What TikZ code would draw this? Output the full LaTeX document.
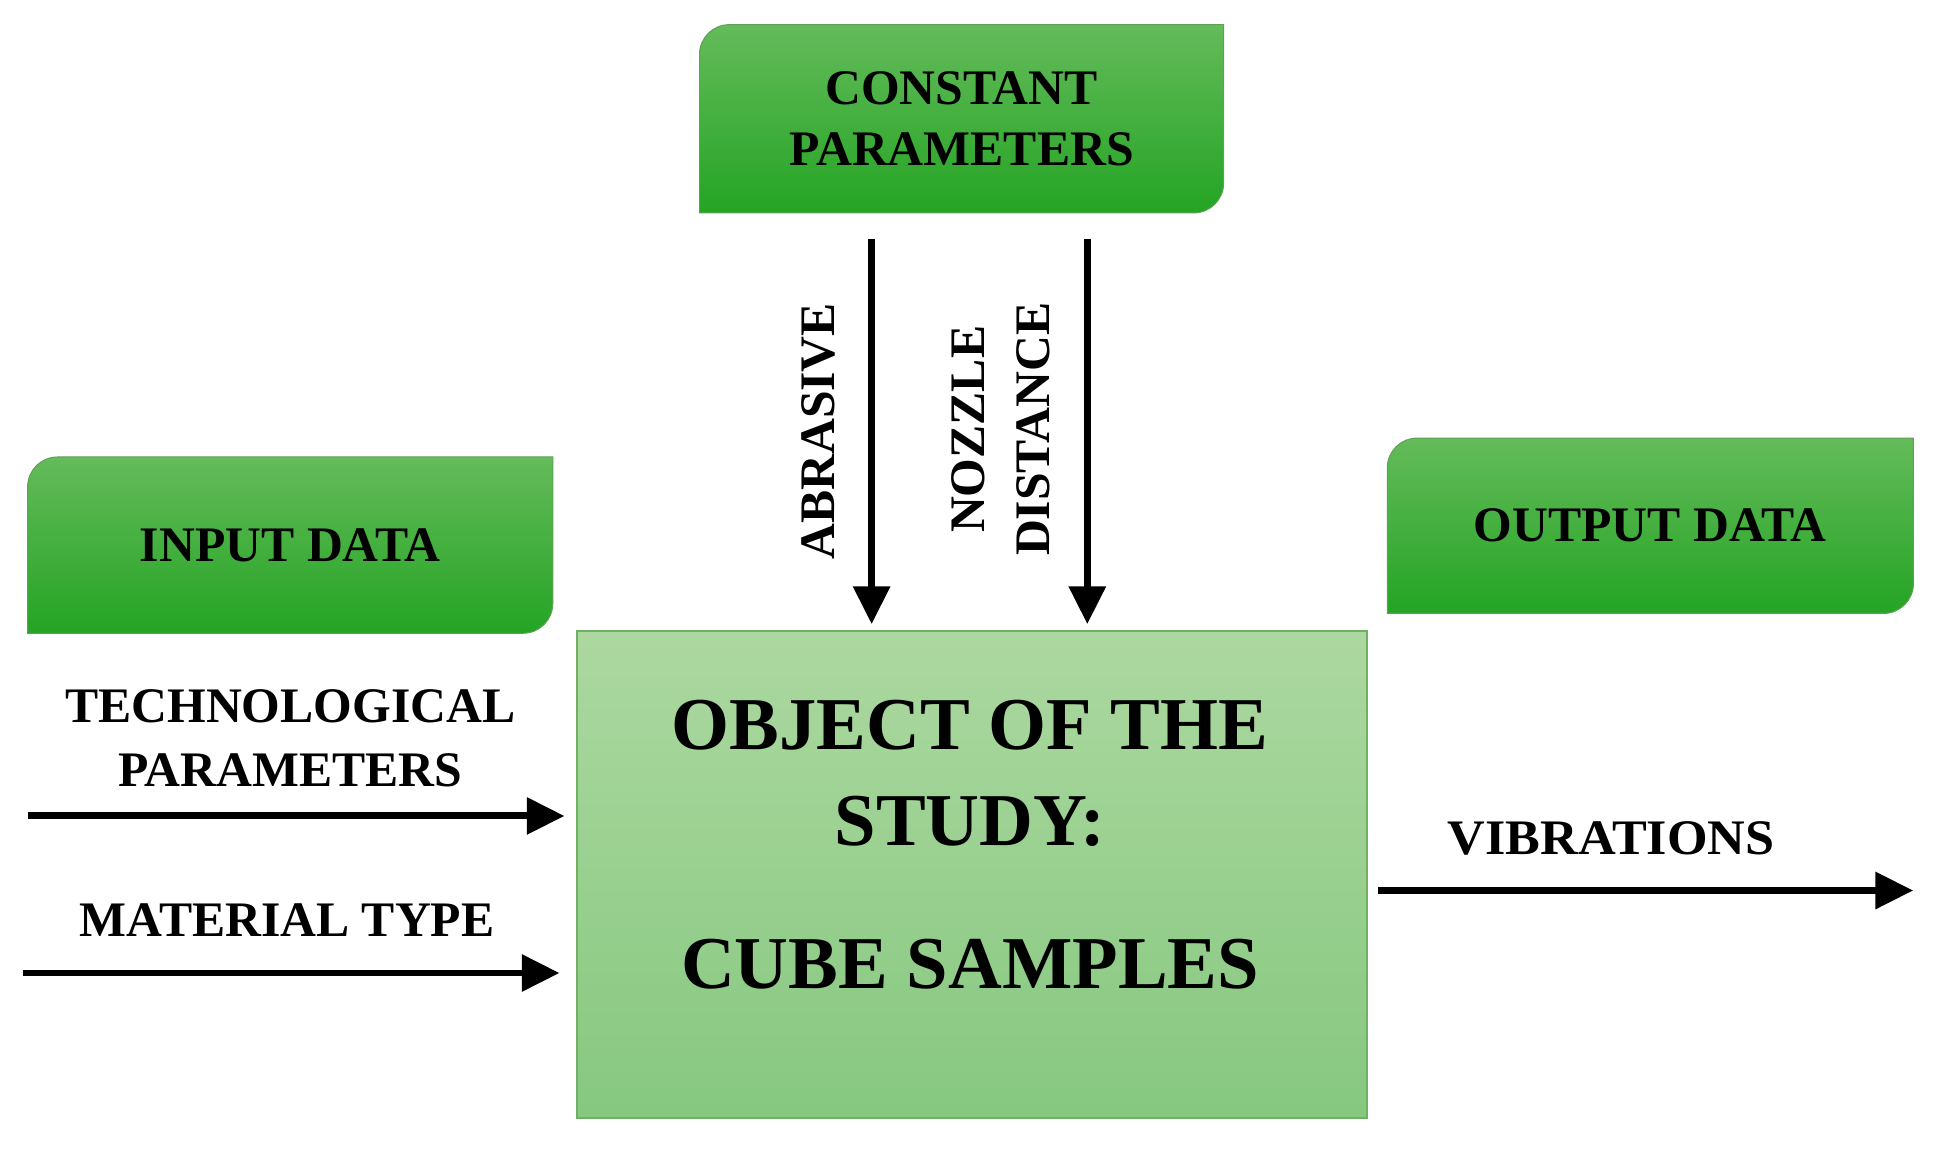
\documentclass[tikz,border=0pt]{standalone}
\usepackage{fontspec}
\setmainfont{Liberation Serif}
\usetikzlibrary{arrows.meta,calc,backgrounds}
\definecolor{gtop}{RGB}{100,187,90}
\definecolor{gbot}{RGB}{36,164,36}
\definecolor{gedge}{RGB}{96,160,86}
\definecolor{mtop}{RGB}{172,216,160}
\definecolor{mbot}{RGB}{134,200,128}
\definecolor{medge}{RGB}{112,176,100}
\tikzset{
  lbl/.style={font=\fontsize{50}{62}\selectfont\bfseries, align=center, inner sep=0pt},
  bigtxt/.style={font=\fontsize{75}{96}\selectfont\bfseries, align=center, inner sep=0pt},
  gbox/.style={lbl, minimum width=#1, minimum height=177pt},
  flow/.style={line width=7pt, -{Triangle[width=36pt,length=38pt]}},
}
\newcommand{\gback}[1]{%
  \path[top color=gtop, bottom color=gbot, draw=gedge, line width=1pt]
    (#1.south west) -- ($(#1.north west)+(0,-30pt)$)
    arc[start angle=180, end angle=90, radius=30pt] -- (#1.north east)
    -- ($(#1.south east)+(0,30pt)$)
    arc[start angle=0, end angle=-90, radius=30pt] -- cycle;}
\begin{document}
\begin{tikzpicture}[x=1pt,y=1pt]
\useasboundingbox (0,-7) rectangle (1960,1158);
% green boxes
\node[gbox=527pt, minimum height=189pt] (const) at (967.5,1038.5) {CONSTANT\\PARAMETERS};
\node[gbox=528pt] (input) at (292,609.5) {INPUT DATA};
\node[gbox=529pt, minimum height=176pt] (output) at (1660.5,629) {OUTPUT DATA};
\begin{scope}[on background layer]
  \gback{const}
  \gback{input}
  \gback{output}
\end{scope}
% main box
\node[draw=medge, line width=2pt, top color=mtop, bottom color=mbot,
      minimum width=794pt, minimum height=490pt, inner sep=0pt] (main) at (978,278) {};
\node[bigtxt] (obj) at (976,428) {OBJECT OF THE};
\node[bigtxt] (study) at (976,332) {STUDY:};
\node[bigtxt] (cube) at (976,188) {CUBE SAMPLES};
% vertical arrows
\coordinate (abrs) at (877,918);
\coordinate (nozs) at (1094,918);
\draw[flow, shorten >=6pt] (abrs) -- (abrs |- main.north);
\draw[flow, shorten >=6pt] (nozs) -- (nozs |- main.north);
\node[lbl, rotate=90] (abr) at (823,724) {ABRASIVE};
\node[lbl, rotate=90, font=\fontsize{50}{66}\selectfont\bfseries] (noz) at (1007,726) {NOZZLE\\DISTANCE};
% input arrows
\coordinate (tps) at (28,337);
\coordinate (mts) at (23,179);
\draw[flow, shorten >=12pt] (tps) -- (tps -| main.west);
\draw[flow, shorten >=17pt] (mts) -- (mts -| main.west);
\node[lbl, font=\fontsize{50}{64}\selectfont\bfseries] (tech) at (292,415) {TECHNOLOGICAL\\PARAMETERS};
\node[lbl] (mat) at (289,232) {MATERIAL TYPE};
% output arrow
\coordinate (vibe) at (1925,262);
\draw[flow, shorten <=10pt] (main.east |- vibe) -- (vibe);
\node[lbl] (vib) at (1621,314) {\scalebox{1.05}[1]{VIBRATIONS}};
\end{tikzpicture}
\end{document}
